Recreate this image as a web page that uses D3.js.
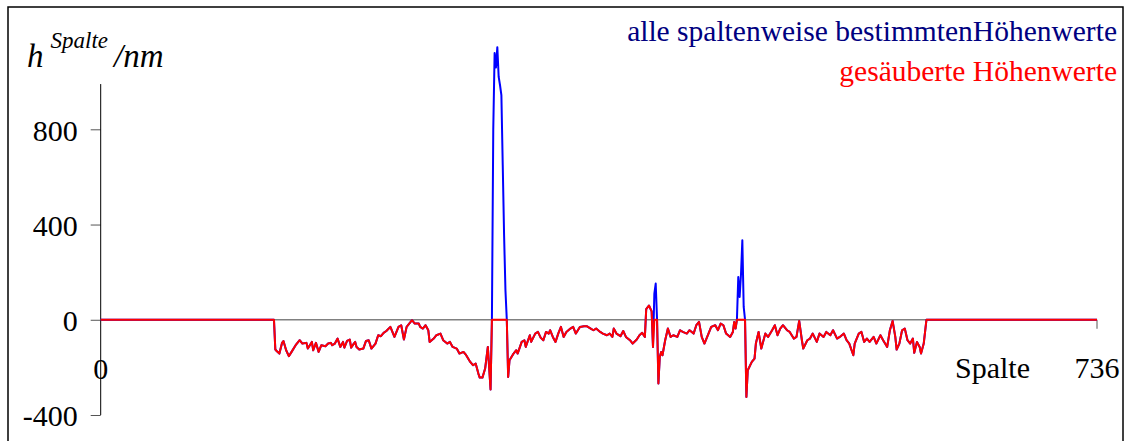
<!DOCTYPE html>
<html>
<head>
<meta charset="utf-8">
<script src="https://cdnjs.cloudflare.com/ajax/libs/d3/7.8.5/d3.min.js"></script>
<style>
  body { margin: 0; background: #fff; }
  text { font-family: 'Liberation Serif', 'Times New Roman', serif; }
</style>
</head>
<body>
<div id="chart"></div>
<script>

var spalte = [
  0,128,129,130,132,134,135,137,139,141,
  144,147,149,152,153,156,157,159,161,163,
  166,168,170,171,173,175,177,179,180,182,
  184,185,187,188,189,191,194,196,198,200,
  203,205,207,209,211,214,217,220,222,224,
  226,230,232,235,236,238,240,242,243,246,
  248,251,253,256,258,260,263,265,268,270,
  273,275,277,279,280,282,284,286,288,289,
  290,291,292,293,294,295,296,297,298,299,
  300,301,302,305,307,308,311,313,314,317,
  318,321,323,325,327,329,331,332,334,336,
  338,340,342,344,347,349,351,354,357,359,
  362,364,366,369,371,374,376,378,379,381,
  384,386,388,391,393,396,398,400,402,403,
  405,407,408,409,410,411,412,413,414,415,
  417,419,421,423,426,428,430,433,435,438,
  440,442,444,446,449,451,454,456,458,460,
  462,465,467,468,469,470,471,472,473,474,
  475,476,477,478,481,483,484,486,488,491,
  493,496,498,500,502,504,507,509,512,514,
  516,518,519,522,524,526,529,531,534,536,
  539,541,544,546,549,551,553,556,557,560,
  562,564,566,568,571,573,576,578,581,583,
  585,587,588,590,592,594,596,598,600,601,
  603,605,606,608,610,736
]

// gesäuberte Höhenwerte (nm)
var hSauber = [
  0,0,-125,-131,-142,-97,-89,-128,-153,-135,
  -107,-86,-100,-97,-121,-93,-128,-97,-135,-107,
  -111,-100,-97,-107,-100,-79,-114,-93,-117,-89,
  -83,-117,-100,-93,-114,-125,-121,-89,-86,-121,
  -100,-65,-69,-55,-47,-30,-72,-30,-23,-83,
  -30,-2,-16,-16,-30,-37,-23,-44,-93,-79,
  -65,-58,-86,-100,-93,-114,-121,-142,-135,-149,
  -177,-191,-184,-226,-243,-243,-205,-114,-293,0,
  0,0,0,0,0,0,0,0,0,0,
  0,-240,-170,-142,-128,-142,-93,-86,-114,-65,
  -93,-58,-51,-75,-86,-51,-58,-44,-72,-93,
  -58,-30,-72,-51,-37,-30,-58,-30,-27,-27,
  -37,-44,-37,-51,-58,-65,-58,-72,-37,-58,
  -69,-47,-72,-86,-100,-83,-65,-55,-72,45,
  60,35,-114,0,0,0,-268,-156,-135,-149,
  -86,-37,-72,-65,-72,-44,-51,-58,-44,-58,
  -23,-9,-72,-100,-58,-30,-23,-44,-16,-23,
  -58,-72,-51,-9,-37,0,0,0,0,0,
  0,0,-324,-212,-177,-163,-100,-51,-121,-58,
  -72,-44,-23,-65,-37,-23,-44,-51,-79,-72,
  -5,-86,-121,-86,-79,-58,-93,-58,-72,-51,
  -65,-44,-79,-72,-58,-86,-100,-149,-100,-58,
  -51,-93,-79,-93,-72,-100,-65,-86,-114,-44,
  -5,-72,-125,-100,-44,-37,-86,-100,-79,-139,
  -93,-114,-142,-100,0,0
]

// columns where the raw heights differ (the spikes that were cleaned away)
var spitzeSpalte = [290,291,292,293,294,295,296,297,298,299, 409,410, 471,472,473,474,475]
var spitzeH      = [800,1120,1060,1145,1020,985,944,650,355,124, 110,152, 180,96,190,334,54]

var yTicks = [-400, 0, 400, 800]

var legendAlle = 'alle spaltenweise bestimmtenHöhenwerte'
var legendSauber = 'gesäuberte Höhenwerte'


var sauber = spalte.map((s, i) => ({s, h: hSauber[i]}))
var alle = spalte.map((s, i) => {
  var j = spitzeSpalte.indexOf(s)
  return {s, h: j > -1 ? spitzeH[j] : hSauber[i]}
})

var width = 1133, height = 441

var svg = d3.select('#chart').append('svg')
  .attr('width', width)
  .attr('height', height)

// outer frame
svg.append('rect')
  .attr('x', 8).attr('y', 7)
  .attr('width', 1115).attr('height', 450)
  .attr('fill', 'none')
  .attr('stroke', '#000')
  .attr('stroke-width', 1.5)

var x = d3.scaleLinear().domain([0, 736]).range([100.7, 1097])
var y = d3.scaleLinear().domain([-400, 800]).range([415, 129.3])

// y axis
var yAxis = svg.append('g')
  .attr('transform', 'translate(' + x(0) + ',0)')
  .call(d3.axisLeft(y).tickValues(yTicks).tickSize(10).tickSizeOuter(0).tickPadding(13).tickFormat(d => String(d)))

yAxis.select('.domain').remove()
yAxis.append('line')
  .attr('y1', y(-400)).attr('y2', y(990))
  .attr('stroke', '#000')
yAxis.selectAll('.tick line').attr('stroke', '#555')
yAxis.selectAll('.tick text')
  .attr('font-size', 30)
  .attr('font-family', "'Liberation Serif', serif")
  .attr('fill', '#000')
  .attr('dy', '0.36em')

// zero line with end tick
svg.append('line')
  .attr('x1', x(0)).attr('x2', x(736))
  .attr('y1', y(0)).attr('y2', y(0))
  .attr('stroke', '#808080')
  .attr('stroke-width', 1.5)
svg.append('line')
  .attr('x1', x(736)).attr('x2', x(736))
  .attr('y1', y(0)).attr('y2', y(0) + 9)
  .attr('stroke', '#555')

// lines
var line = d3.line().x(d => x(d.s)).y(d => y(d.h))

svg.append('path')
  .datum(alle)
  .attr('d', line)
  .attr('fill', 'none')
  .attr('stroke', '#0000ff')
  .attr('stroke-width', 2)
  .attr('stroke-linejoin', 'round')

svg.append('path')
  .datum(sauber)
  .attr('d', line)
  .attr('fill', 'none')
  .attr('stroke', '#ff0000')
  .attr('stroke-width', 2)
  .attr('stroke-linejoin', 'round')

// x labels
svg.append('text')
  .attr('x', x(0)).attr('y', 379)
  .attr('text-anchor', 'middle')
  .attr('font-size', 30)
  .text('0')

svg.append('text')
  .attr('x', x(736)).attr('y', 378)
  .attr('text-anchor', 'middle')
  .attr('font-size', 30)
  .text('736')

svg.append('text')
  .attr('x', 955).attr('y', 378)
  .attr('font-size', 30)
  .text('Spalte')

// y label
var yl = svg.append('text')
  .attr('x', 27).attr('y', 67)
  .attr('font-size', 33)
  .attr('font-style', 'italic')
yl.append('tspan').text('h')
yl.append('tspan').attr('dx', 7).attr('dy', -19).attr('font-size', 23).text('Spalte')
yl.append('tspan').attr('dx', 6).attr('dy', 19).text('/nm')

// legend
svg.append('text')
  .attr('x', 1117).attr('y', 41)
  .attr('text-anchor', 'end')
  .attr('font-size', 29.5)
  .attr('fill', '#000080')
  .text(legendAlle)

svg.append('text')
  .attr('x', 1117).attr('y', 81)
  .attr('text-anchor', 'end')
  .attr('font-size', 29.5)
  .attr('fill', '#ff0000')
  .text(legendSauber)

</script>
</body>
</html>
